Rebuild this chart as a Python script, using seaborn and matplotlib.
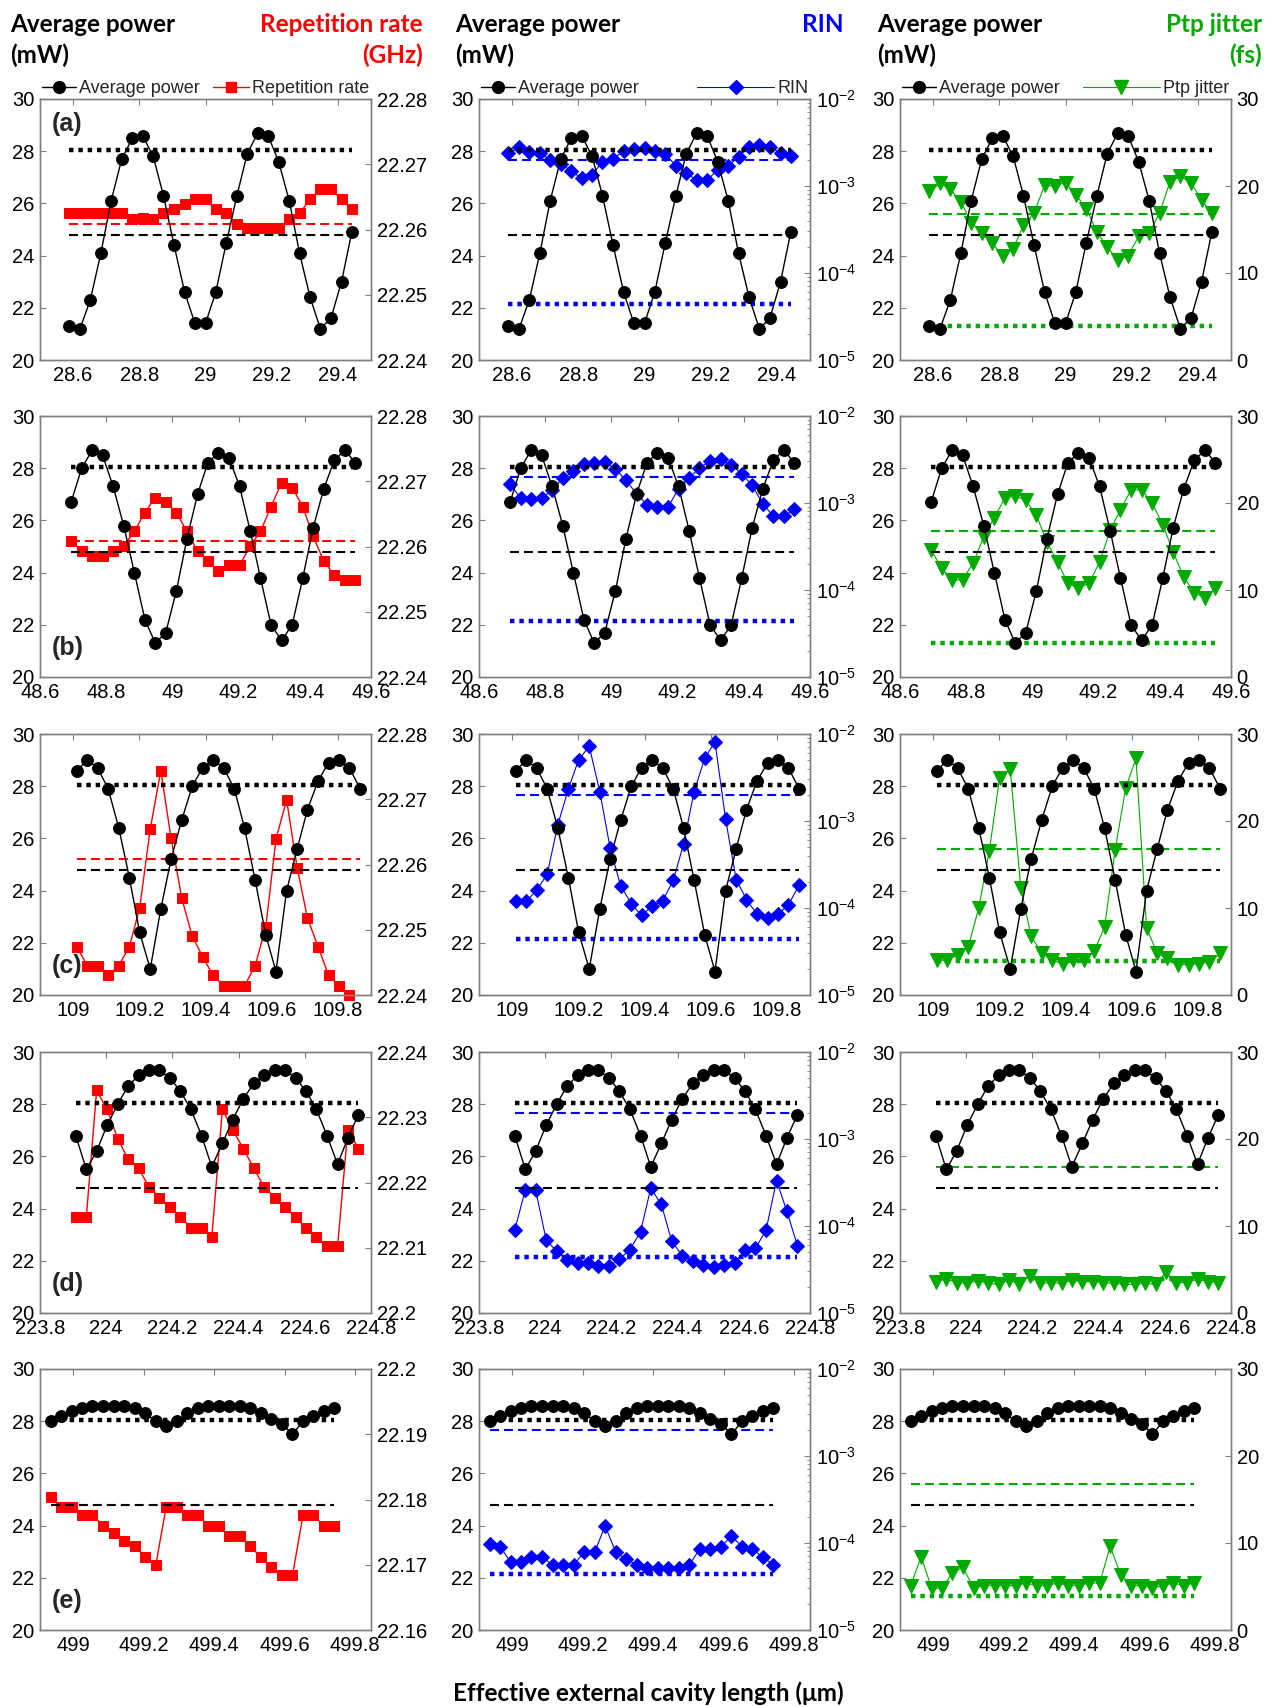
import numpy as np
import matplotlib
matplotlib.use('Agg')
import matplotlib.pyplot as plt
from matplotlib.lines import Line2D
from matplotlib.ticker import FuncFormatter, LogLocator, NullFormatter
import seaborn as sns

# ---------------- data ----------------
# effective external cavity length (um), one scan per row
x_a = [28.589, 28.621, 28.652, 28.684, 28.715, 28.747, 28.779, 28.810, 28.842, 28.873,
       28.905, 28.937, 28.968, 29.000, 29.031, 29.063, 29.095, 29.126, 29.158, 29.189,
       29.221, 29.253, 29.284, 29.316, 29.347, 29.379, 29.411, 29.442]
x_b = [48.694, 48.726, 48.758, 48.789, 48.821, 48.853, 48.885, 48.917, 48.948, 48.980,
       49.012, 49.044, 49.076, 49.107, 49.139, 49.171, 49.203, 49.235, 49.266, 49.298,
       49.330, 49.362, 49.394, 49.425, 49.457, 49.489, 49.521, 49.553]
x_c = [109.011, 109.043, 109.074, 109.106, 109.138, 109.170, 109.201, 109.233, 109.265, 109.296,
       109.328, 109.360, 109.391, 109.423, 109.455, 109.487, 109.518, 109.550, 109.582, 109.613,
       109.645, 109.677, 109.708, 109.740, 109.772, 109.804, 109.835, 109.867]
x_d = [223.908, 223.940, 223.971, 224.003, 224.035, 224.066, 224.098, 224.129, 224.161, 224.193,
       224.224, 224.256, 224.288, 224.319, 224.351, 224.382, 224.414, 224.446, 224.477, 224.509,
       224.541, 224.572, 224.604, 224.635, 224.667, 224.699, 224.730, 224.762]
x_e = [498.935, 498.965, 498.995, 499.025, 499.054, 499.084, 499.114, 499.144, 499.174, 499.204,
       499.234, 499.263, 499.293, 499.323, 499.353, 499.383, 499.413, 499.443, 499.472, 499.502,
       499.532, 499.562, 499.592, 499.622, 499.652, 499.681, 499.711, 499.741]

# average power (mW)
power_a = [21.3, 21.2, 22.3, 24.1, 26.1, 27.7, 28.5, 28.6, 27.8, 26.3, 24.4, 22.6, 21.4, 21.4,
           22.6, 24.5, 26.3, 27.9, 28.7, 28.6, 27.6, 26.1, 24.1, 22.4, 21.2, 21.6, 23.0, 24.9]
power_b = [26.7, 28.0, 28.7, 28.5, 27.3, 25.8, 24.0, 22.2, 21.3, 21.7, 23.3, 25.3, 27.0, 28.2,
           28.6, 28.4, 27.3, 25.6, 23.8, 22.0, 21.4, 22.0, 23.8, 25.7, 27.2, 28.3, 28.7, 28.2]
power_c = [28.6, 29.0, 28.7, 27.9, 26.4, 24.5, 22.4, 21.0, 23.3, 25.2, 26.7, 28.0, 28.7, 29.0,
           28.7, 27.9, 26.4, 24.4, 22.3, 20.9, 24.0, 25.6, 27.1, 28.2, 28.9, 29.0, 28.7, 27.9]
power_d = [26.8, 25.5, 26.2, 27.2, 28.0, 28.7, 29.1, 29.3, 29.3, 29.0, 28.5, 27.8, 26.8, 25.6,
           26.5, 27.4, 28.2, 28.8, 29.1, 29.3, 29.3, 29.0, 28.5, 27.8, 26.8, 25.7, 26.7, 27.6]
power_e = [28.0, 28.2, 28.4, 28.5, 28.6, 28.6, 28.6, 28.6, 28.5, 28.3, 28.0, 27.8, 28.0, 28.3,
           28.5, 28.6, 28.6, 28.6, 28.6, 28.5, 28.3, 28.1, 27.9, 27.5, 28.0, 28.2, 28.4, 28.5]

# repetition rate (GHz)
rep_a = [22.2625, 22.2625, 22.2625, 22.2625, 22.2625, 22.2625, 22.2616, 22.2617, 22.2616, 22.2625,
         22.2631, 22.2639, 22.2646, 22.2646, 22.2631, 22.2625, 22.2609, 22.2602, 22.2602, 22.2602,
         22.2602, 22.2616, 22.2625, 22.2646, 22.2662, 22.2662, 22.2646, 22.2631]
rep_b = [22.2609, 22.2593, 22.2585, 22.2585, 22.2593, 22.2601, 22.2623, 22.2652, 22.2675, 22.2668,
         22.2652, 22.2623, 22.2593, 22.2578, 22.2562, 22.2571, 22.2571, 22.2601, 22.2623, 22.2661,
         22.2698, 22.2690, 22.2661, 22.2616, 22.2578, 22.2556, 22.2548, 22.2548]
rep_c = [22.2474, 22.2445, 22.2445, 22.2430, 22.2445, 22.2474, 22.2533, 22.2654, 22.2744, 22.2640,
         22.2549, 22.2490, 22.2459, 22.2430, 22.2414, 22.2414, 22.2414, 22.2445, 22.2504, 22.2639,
         22.2699, 22.2595, 22.2518, 22.2474, 22.2430, 22.2414, 22.2400]
rep_d = [22.2147, 22.2147, 22.2341, 22.2312, 22.2267, 22.2236, 22.2222, 22.2193, 22.2177, 22.2162,
         22.2147, 22.2131, 22.2131, 22.2116, 22.2312, 22.2281, 22.2252, 22.2222, 22.2193, 22.2177,
         22.2162, 22.2147, 22.2131, 22.2116, 22.2102, 22.2102, 22.2281, 22.2252]
rep_e = [22.1804, 22.1788, 22.1788, 22.1776, 22.1776, 22.1760, 22.1748, 22.1736, 22.1728, 22.1712,
         22.1700, 22.1788, 22.1788, 22.1776, 22.1776, 22.1760, 22.1760, 22.1744, 22.1744, 22.1728,
         22.1712, 22.1696, 22.1684, 22.1684, 22.1776, 22.1776, 22.1760, 22.1760]

# relative intensity noise
rin_a = [2.38e-3, 2.78e-3, 2.44e-3, 2.40e-3, 1.99e-3, 1.77e-3, 1.50e-3, 1.22e-3, 1.35e-3, 1.90e-3,
         2.03e-3, 2.55e-3, 2.66e-3, 2.76e-3, 2.55e-3, 2.33e-3, 1.71e-3, 1.40e-3, 1.17e-3, 1.17e-3,
         1.53e-3, 1.70e-3, 2.17e-3, 2.83e-3, 2.96e-3, 2.83e-3, 2.38e-3, 2.21e-3]
rin_b = [1.64e-3, 1.14e-3, 1.11e-3, 1.14e-3, 1.40e-3, 1.92e-3, 2.31e-3, 2.78e-3, 2.88e-3, 2.93e-3,
         2.48e-3, 1.82e-3, 1.28e-3, 9.6e-4, 9.0e-4, 9.0e-4, 1.46e-3, 1.95e-3, 2.52e-3, 3.04e-3,
         3.24e-3, 2.71e-3, 2.17e-3, 1.60e-3, 9.8e-4, 7.1e-4, 7.0e-4, 8.5e-4]
rin_c = [1.19e-4, 1.19e-4, 1.60e-4, 2.44e-4, 9.0e-4, 2.34e-3, 5.06e-3, 7.2e-3, 2.18e-3, 4.92e-4,
         1.80e-4, 1.12e-4, 8.2e-5, 1.05e-4, 1.20e-4, 2.09e-4, 5.43e-4, 2.18e-3, 5.28e-3, 8.1e-3,
         1.05e-3, 2.12e-4, 1.25e-4, 8.45e-5, 7.7e-5, 8.5e-5, 1.09e-4, 1.83e-4]
rin_d = [9.0e-5, 2.61e-4, 2.61e-4, 6.9e-5, 5.1e-5, 4.07e-5, 3.77e-5, 3.77e-5, 3.51e-5, 3.45e-5,
         4.15e-5, 5.36e-5, 8.6e-5, 2.72e-4, 1.77e-4, 6.7e-5, 4.57e-5, 4.0e-5, 3.57e-5, 3.36e-5,
         3.57e-5, 3.77e-5, 5.36e-5, 5.55e-5, 8.9e-5, 3.33e-4, 1.48e-4, 5.96e-5]
rin_e = [9.8e-5, 9.1e-5, 6.0e-5, 6.0e-5, 6.9e-5, 6.9e-5, 5.6e-5, 5.6e-5, 5.6e-5, 7.9e-5,
         7.9e-5, 1.58e-4, 7.9e-5, 6.5e-5, 5.6e-5, 5.2e-5, 5.2e-5, 5.2e-5, 5.2e-5, 5.6e-5,
         8.5e-5, 8.5e-5, 9.1e-5, 1.2e-4, 9.1e-5, 8.5e-5, 6.9e-5, 5.6e-5]

# peak-to-peak timing jitter (fs)
jit_a = [19.4, 20.3, 19.6, 18.2, 15.8, 14.6, 13.4, 12.0, 12.8, 15.5, 16.9, 20.1, 20.0, 20.4,
         19.0, 17.4, 14.7, 13.0, 11.5, 12.0, 14.2, 14.6, 16.9, 20.5, 21.1, 20.4, 18.4, 16.9]
jit_b = [14.6, 12.5, 11.1, 11.2, 13.1, 16.1, 18.3, 20.6, 20.8, 20.3, 18.6, 15.5, 13.2, 10.8,
         10.2, 10.8, 13.2, 16.9, 19.2, 21.5, 21.5, 20.0, 17.5, 14.4, 11.5, 9.7, 9.1, 10.2]
jit_c = [4.0, 4.0, 4.6, 5.5, 10.0, 16.6, 25.0, 26.0, 12.3, 6.8, 4.8, 4.0, 3.6, 4.0,
         4.0, 5.1, 7.8, 16.7, 23.8, 27.2, 7.7, 4.8, 4.2, 3.5, 3.5, 3.6, 3.8, 4.8]
jit_d = [3.6, 3.9, 3.5, 3.4, 3.7, 3.4, 3.3, 3.8, 3.3, 4.3, 3.4, 3.5, 3.4, 3.8,
         3.6, 3.6, 3.5, 3.4, 3.3, 3.3, 3.4, 3.3, 4.7, 3.5, 3.5, 3.9, 3.6, 3.5]
jit_e = [5.1, 8.4, 4.8, 4.8, 6.6, 7.2, 4.8, 5.1, 5.1, 5.1, 5.1, 5.4, 5.1, 5.1,
         5.4, 5.1, 5.1, 5.4, 5.4, 9.6, 6.3, 5.1, 5.1, 4.8, 5.1, 5.4, 5.1, 5.4]

panel_labels = ['(a)', '(b)', '(c)', '(d)', '(e)']
xlims = [(28.5, 29.5), (48.6, 49.6), (108.9, 109.9), (223.8, 224.8), (498.905, 499.845)]
xticks = [[28.6, 28.8, 29, 29.2, 29.4],
          [48.6, 48.8, 49, 49.2, 49.4, 49.6],
          [109, 109.2, 109.4, 109.6, 109.8],
          [223.8, 224, 224.2, 224.4, 224.6, 224.8],
          [499, 499.2, 499.4, 499.6, 499.8]]
rep_lims = [(22.24, 22.28), (22.24, 22.28), (22.24, 22.28), (22.20, 22.24), (22.16, 22.20)]
rep_means = [22.2608, 22.2608, 22.2608, None, None]

# reference levels
power_hi = 28.05
power_mean = 24.8
rin_mean, rin_low = 2.0e-3, 4.4e-5
jit_mean, jit_low = 16.8, 3.9

RED, BLUE, GREEN = '#ff0000', '#0000ff', '#00aa00'
GRAY = '#7f7f7f'

# ---------------- figure ----------------
sns.set_theme(style='white')
plt.rcParams['font.family'] = ['Liberation Sans', 'DejaVu Sans']
plt.rcParams['mathtext.default'] = 'regular'

W, H = 1267, 1707
fig = plt.figure(figsize=(W / 100, H / 100), dpi=100)
col_left = [40, 479, 900]
row_top = [99, 416, 734, 1052, 1369]
aw, ah = 331, 261

fmt = FuncFormatter(lambda v, p: ('%.3f' % v).rstrip('0').rstrip('.'))
dot = (0, (1, 1.1))
dash = (0, (4.3, 2.4))

xs = [x_a, x_b, x_c, x_d, x_e]
powers = [power_a, power_b, power_c, power_d, power_e]
reps = [rep_a, rep_b, rep_c, rep_d, rep_e]
rins = [rin_a, rin_b, rin_c, rin_d, rin_e]
jits = [jit_a, jit_b, jit_c, jit_d, jit_e]


def style(ax):
    for s in ax.spines.values():
        s.set_color(GRAY)
        s.set_linewidth(1.0)
    ax.tick_params(direction='in', length=4, width=0.8, color=GRAY, labelsize=14.5,
                   labelcolor='black', pad=4)


for r in range(5):
    x = xs[r]
    x0, x1 = x[0], x[-1]
    for c in range(3):
        ax = fig.add_axes([col_left[c] / W, 1 - (row_top[r] + ah) / H, aw / W, ah / H])
        ax2 = ax.twinx()
        ax.set_facecolor('none')

        sns.lineplot(x=x, y=powers[r], ax=ax, color='black', marker='o', markersize=8.5,
                     markeredgecolor='black', linewidth=1, clip_on=False, zorder=5)
        ax.hlines(power_hi, x0, x1, colors='black', linestyles=dot, linewidth=3.2)
        ax.hlines(power_mean, x0, x1, colors='black', linestyles=dash, linewidth=1.5)

        if c == 0:
            y2 = reps[r]
            sns.lineplot(x=x[:len(y2)], y=y2, ax=ax2, color=RED, marker='s', markersize=7,
                         markeredgecolor=RED, linewidth=1, clip_on=False)
            if rep_means[r] is not None:
                ax2.hlines(rep_means[r], x0, x1, colors=RED, linestyles=dash, linewidth=1.5)
            ax2.set_ylim(*rep_lims[r])
            ax2.set_yticks(np.linspace(rep_lims[r][0], rep_lims[r][1], 5))
            ax2.yaxis.set_major_formatter(fmt)
        elif c == 1:
            ax2.set_yscale('log')
            sns.lineplot(x=x, y=rins[r], ax=ax2, color=BLUE, marker='D', markersize=7,
                         markeredgecolor=BLUE, linewidth=0.8, clip_on=False)
            ax2.hlines(rin_mean, x0, x1, colors=BLUE, linestyles=dash, linewidth=1.5)
            ax2.hlines(rin_low, x0, x1, colors=BLUE, linestyles=dot, linewidth=3.2)
            ax2.set_ylim(1e-5, 1e-2)
            ax2.yaxis.set_major_locator(LogLocator(base=10, numticks=10))
            ax2.yaxis.set_minor_locator(LogLocator(base=10, subs=np.arange(2, 10), numticks=20))
            ax2.yaxis.set_minor_formatter(NullFormatter())
        else:
            sns.lineplot(x=x, y=jits[r], ax=ax2, color=GREEN, marker='v', markersize=9.5,
                         markeredgecolor=GREEN, linewidth=0.8, clip_on=False)
            ax2.hlines(jit_mean, x0, x1, colors=GREEN, linestyles=dash, linewidth=1.5)
            ax2.hlines(jit_low, x0, x1, colors=GREEN, linestyles=dot, linewidth=3.2)
            ax2.set_ylim(0, 30)
            ax2.set_yticks([0, 10, 20, 30])

        # black power curve on top of the right-axis series
        ax.set_zorder(ax2.get_zorder() + 1)

        ax.set_xlim(*xlims[r])
        ax.set_xticks(xticks[r])
        ax.xaxis.set_major_formatter(fmt)
        ax.set_ylim(20, 30)
        ax.set_yticks([20, 22, 24, 26, 28, 30])
        ax.tick_params(top=True)
        for a in (ax, ax2):
            style(a)
            a.set_xlabel('')
            a.set_ylabel('')
            a.grid(False)
        if c == 1:
            ax2.tick_params(which='minor', direction='in', length=2, width=0.6, color=GRAY)

        if c == 0:
            ly = 0.905 if r == 0 else 0.11
            ax.text(0.035, ly, panel_labels[r], transform=ax.transAxes, fontsize=18,
                    fontweight='bold', va='center', ha='left', zorder=10)

        if r == 0:
            h_pow = Line2D([], [], color='black', marker='o', markersize=8.5, linewidth=1)
            if c == 0:
                h2 = Line2D([], [], color=RED, marker='s', markersize=7, linewidth=1)
                lab2 = 'Repetition rate'
            elif c == 1:
                h2 = Line2D([], [], color=BLUE, marker='D', markersize=7, linewidth=0.8)
                lab2 = 'RIN'
            else:
                h2 = Line2D([], [], color=GREEN, marker='v', markersize=9.5, linewidth=0.8)
                lab2 = 'Ptp jitter'
            kw = dict(frameon=False, fontsize=13, handlelength=1.9, handletextpad=0.15,
                      borderaxespad=0.0, borderpad=0.1)
            leg1 = ax.legend([h_pow], ['Average power'], loc='lower left',
                             bbox_to_anchor=(0.0, 1.0), **kw)
            ax.add_artist(leg1)
            kw['handlelength'] = 2.0 if c == 0 else 4.3
            ax.legend([h2], [lab2], loc='lower right', bbox_to_anchor=(1.0, 1.0), **kw)

# ---------------- header texts ----------------
hdr = dict(fontsize=17.5, fontweight='bold', family=['Lato', 'DejaVu Sans'], va='center')


def ftext(px, py, s, **kw):
    fig.text(px / W, 1 - py / H, s, **kw)


for px in (10, 455, 877):
    ftext(px, 24, 'Average power', ha='left', color='black', **hdr)
    ftext(px, 55, '(mW)', ha='left', color='black', **hdr)
ftext(423, 24, 'Repetition rate', ha='right', color=RED, **hdr)
ftext(423, 55, '(GHz)', ha='right', color=RED, **hdr)
ftext(844, 24, 'RIN', ha='right', color=BLUE, **hdr)
ftext(1262, 24, 'Ptp jitter', ha='right', color=GREEN, **hdr)
ftext(1262, 55, '(fs)', ha='right', color=GREEN, **hdr)
ftext(648, 1693, 'Effective external cavity length (\u03bcm)', ha='center', color='black', **hdr)

fig.savefig('out.png', dpi=100, facecolor='white')
